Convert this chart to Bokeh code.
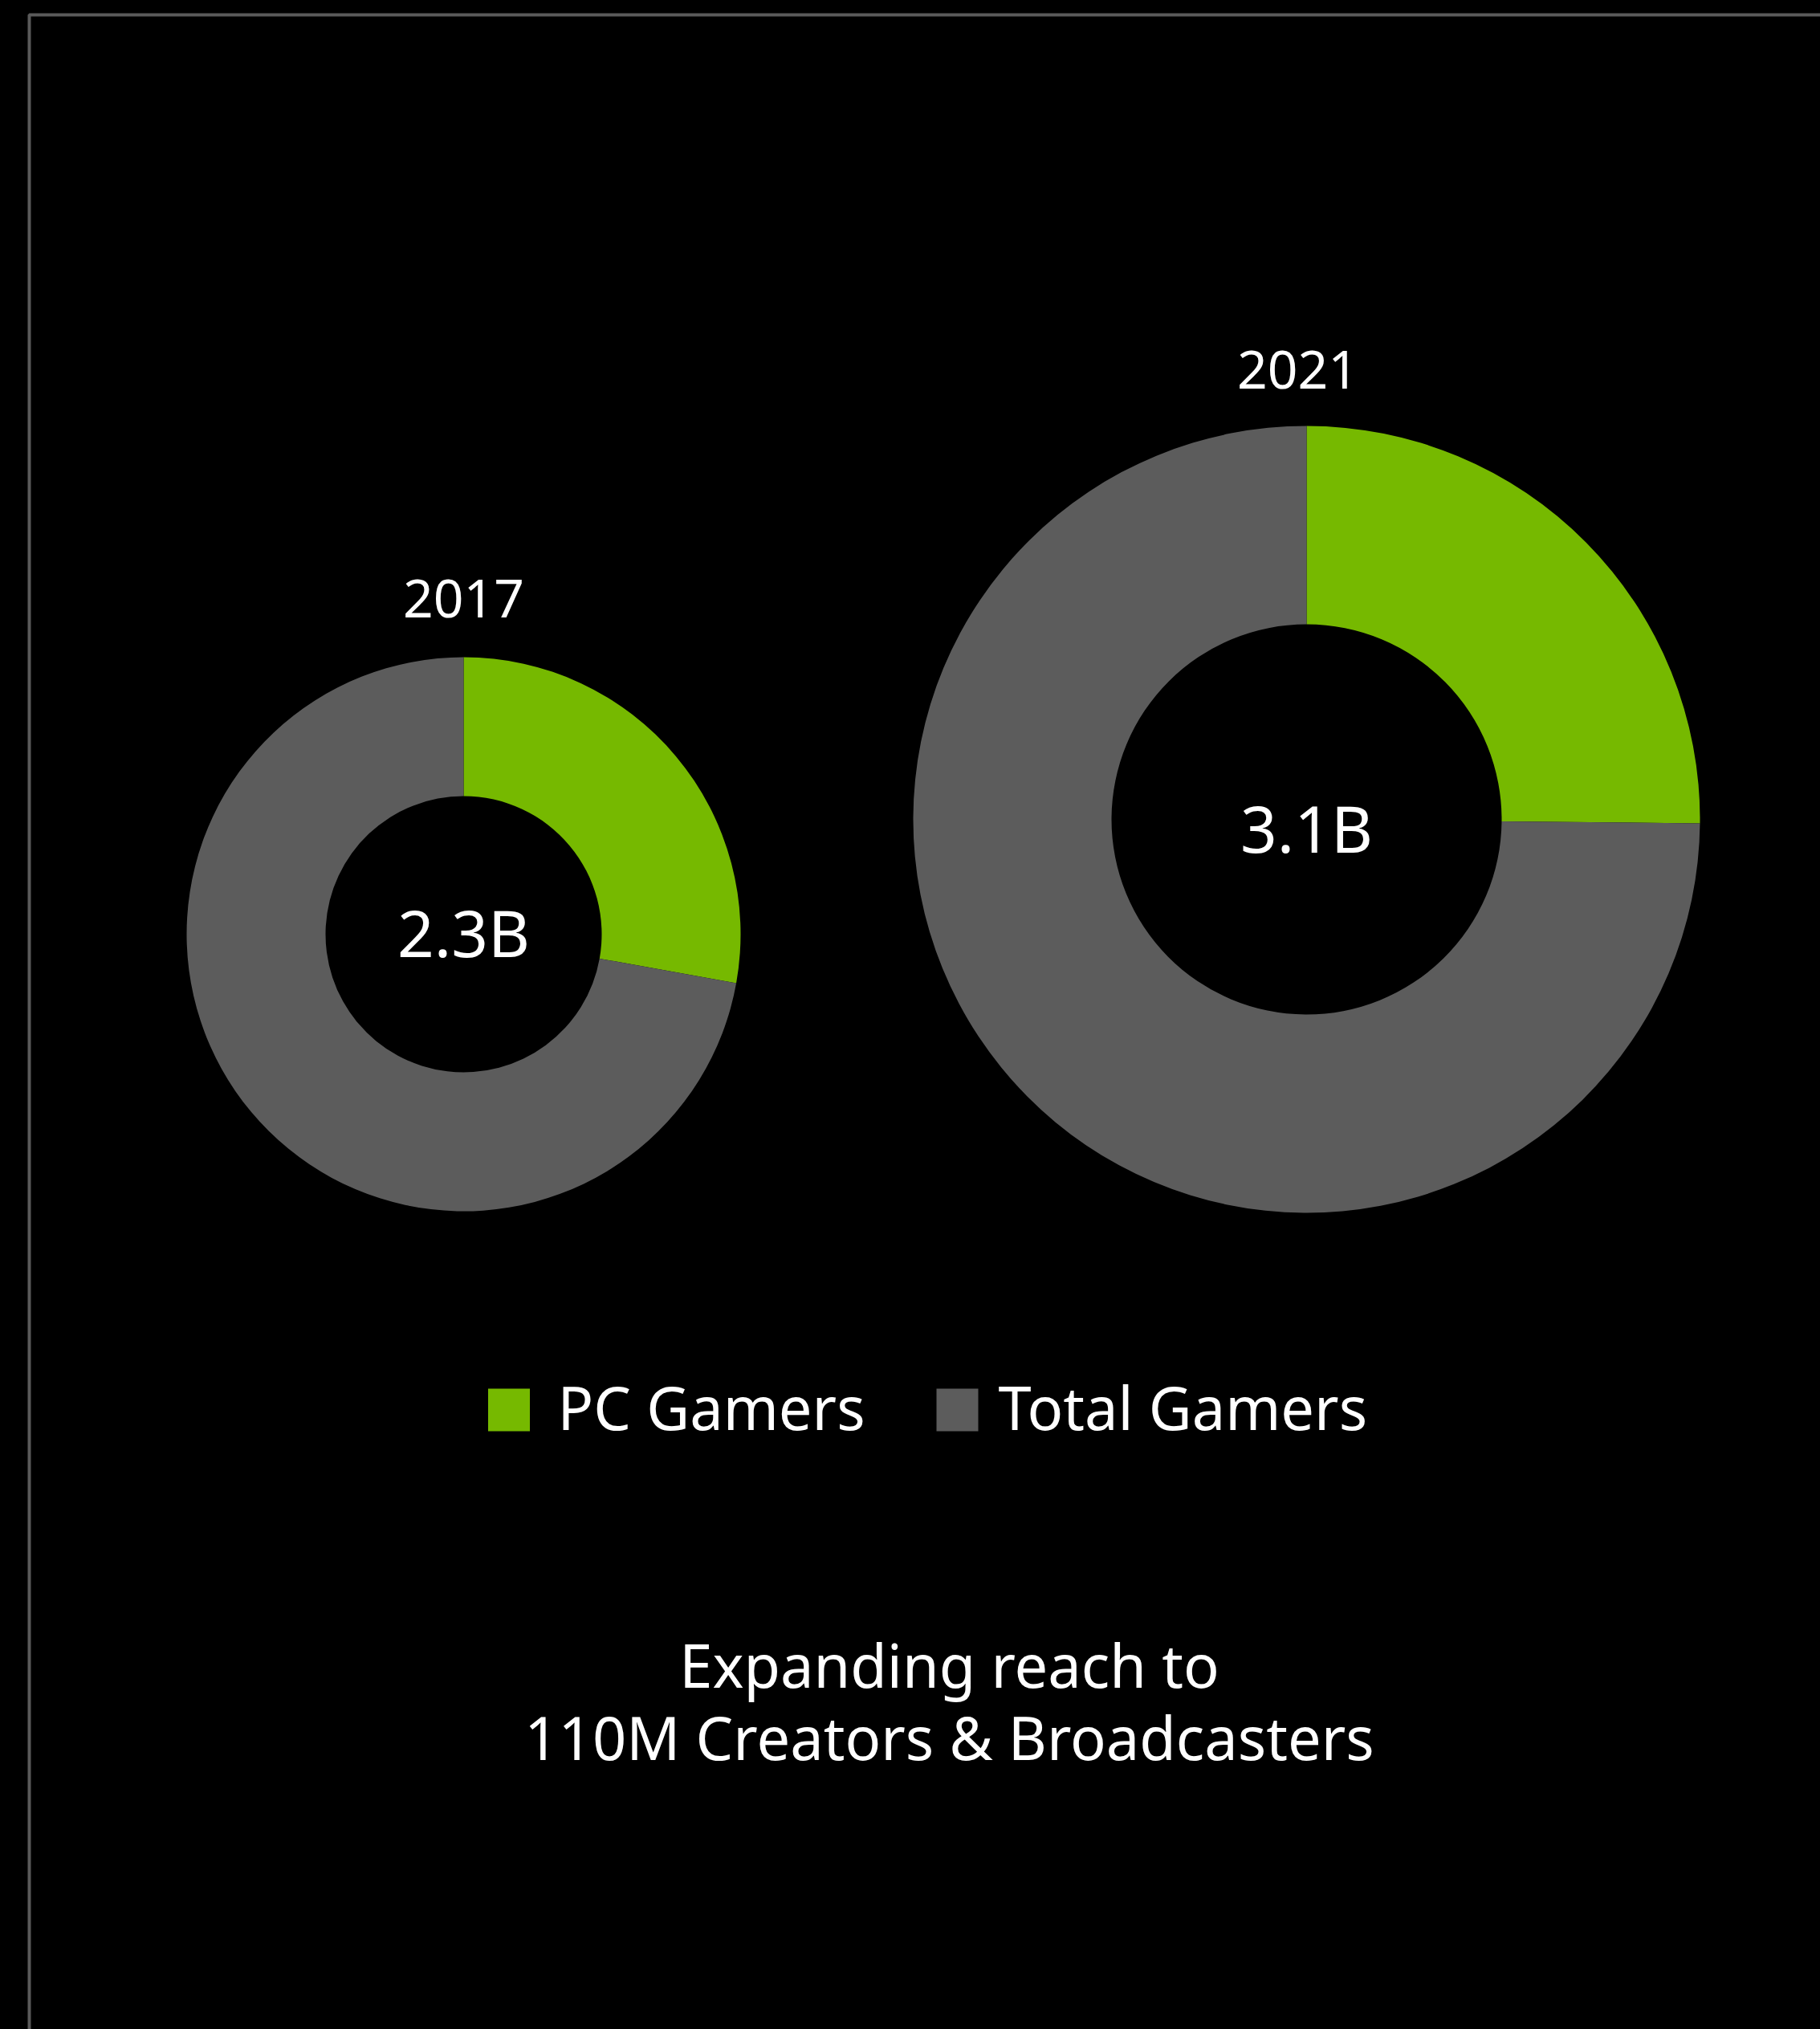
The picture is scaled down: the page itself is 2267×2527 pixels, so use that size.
import math
from bokeh.plotting import figure
from bokeh.models import Range1d, ColumnDataSource
from bokeh.core.properties import value
from bokeh.embed import file_html
from bokeh.resources import INLINE

# ---------------- data ----------------
years = ["2017", "2021"]
total_gamers_b = [2.3, 3.1]          # total gamers, billions
pc_gamers_b = [0.64, 0.78]           # PC gamers, billions
total_labels = ["2.3B", "3.1B"]
series = ["PC Gamers", "Total Gamers"]
series_colors = ["#76b900", "#5c5c5c"]
subtitle_lines = ["Expanding reach to", "110M Creators & Broadcasters"]

# ---------------- layout (page pixels) ----------------
W, H = 2267, 2527
FONT = value("Noto Sans")
BASE_FIX = 0.39   # shift so that the drawn alphabetic baseline lands on target


def px(x):
    return x


def py(y):
    return H - y


def tb(y, fs):
    return py(y - BASE_FIX * fs)


centers_x = [577, 1627]
centers_y = [1163, 1020]
outer_r = [345, 490]
inner_r = [172, 243]
year_label_x = [577, 1616]
year_baseline = [771, 486]
value_baseline = [1191, 1061]

p = figure(width=W, height=H, output_backend="svg", toolbar_location=None,
           x_range=Range1d(0, W), y_range=Range1d(0, H),
           min_border=0, background_fill_color="black", border_fill_color="black")
p.axis.visible = False
p.xgrid.visible = False
p.ygrid.visible = False
p.outline_line_color = None

try:
    from bokeh.models import GlobalInlineStyleSheet
    p.stylesheets = [GlobalInlineStyleSheet(
        css="html,body{background:#000;margin:0;overflow:hidden;}")]
except Exception:
    pass

# frame line
p.line(x=[px(36), px(36), W + 10], y=[-10, py(18), py(18)],
       line_color="#5a5a5a", line_width=4)

# donut wedges
xs, ys, ri, ro, sa, ea, cols = [], [], [], [], [], [], []
for i in range(len(years)):
    frac = pc_gamers_b[i] / total_gamers_b[i]
    top = math.pi / 2
    split = top - 2 * math.pi * frac
    # PC gamers slice (clockwise from top)
    xs.append(px(centers_x[i])); ys.append(py(centers_y[i]))
    ri.append(inner_r[i]); ro.append(outer_r[i])
    sa.append(split); ea.append(top); cols.append(series_colors[0])
    # remainder of total gamers
    xs.append(px(centers_x[i])); ys.append(py(centers_y[i]))
    ri.append(inner_r[i]); ro.append(outer_r[i])
    sa.append(top); ea.append(split + 2 * math.pi); cols.append(series_colors[1])

src = ColumnDataSource(dict(x=xs, y=ys, ri=ri, ro=ro, sa=sa, ea=ea, c=cols))
p.annular_wedge(x="x", y="y", inner_radius="ri", outer_radius="ro",
                start_angle="sa", end_angle="ea", direction="anticlock",
                fill_color="c", line_color=None, source=src)

# year labels
fs_year = 66
p.text(x=[px(v) for v in year_label_x], y=[tb(v, fs_year) for v in year_baseline], text=years,
       text_font=FONT, text_font_size=f"{fs_year}px", text_color="white",
       text_align="center", text_baseline="alphabetic")

# total labels in donut holes
fs_val = 80
p.text(x=[px(v) for v in centers_x], y=[tb(v, fs_val) for v in value_baseline], text=total_labels,
       text_font=FONT, text_font_size=f"{fs_val}px", text_color="white",
       text_align="center", text_baseline="alphabetic")

# legend
sq_cx = [633.5, 1192]
sq_cy = 1755.5
lab_x = [694, 1243]
fs_leg = 74
p.rect(x=[px(v) for v in sq_cx], y=[py(sq_cy)] * 2, width=52, height=53,
       fill_color=series_colors, line_color=None)
p.text(x=[px(v) for v in lab_x], y=[tb(1781, fs_leg)] * 2, text=series,
       text_font=FONT, text_font_size=f"{fs_leg}px", text_color="white",
       text_align="left", text_baseline="alphabetic")

# subtitle
fs_sub = 74
p.text(x=[px(1182)] * 2, y=[tb(2102, fs_sub), tb(2192, fs_sub)], text=subtitle_lines,
       text_font=FONT, text_font_size=f"{fs_sub}px", text_color="white",
       text_align="center", text_baseline="alphabetic")

open("out.html", "w").write(file_html(p, INLINE))
